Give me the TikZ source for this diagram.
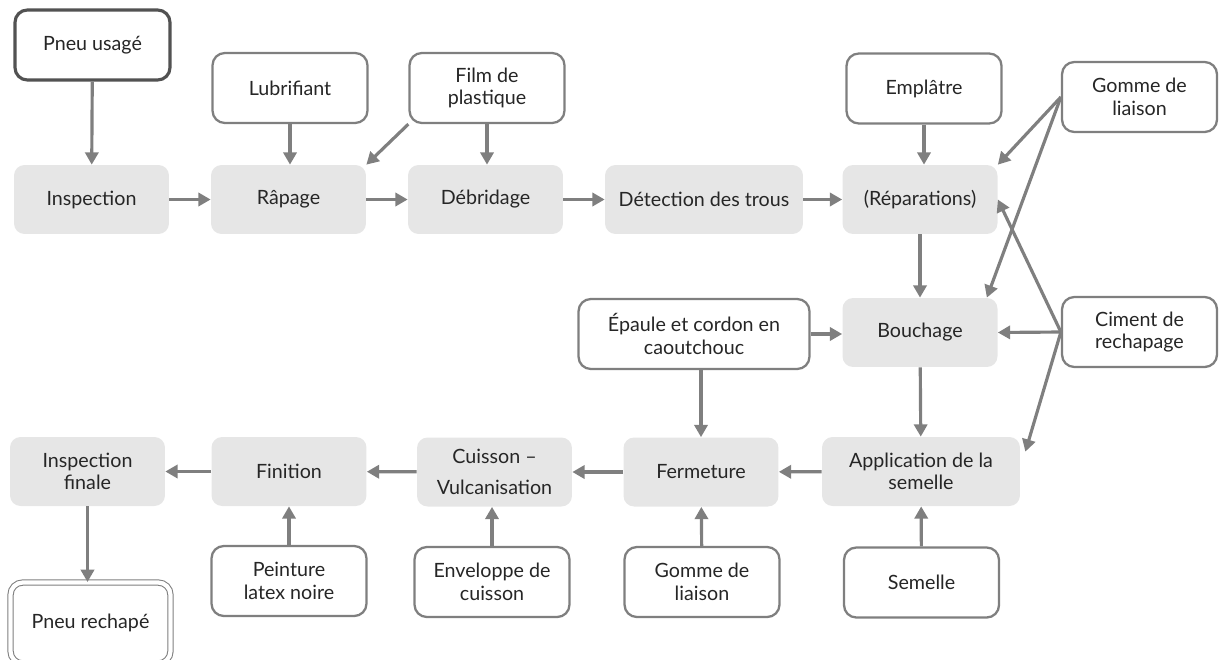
\documentclass[tikz,border=0pt]{standalone}
\usepackage{fontspec}
\setmainfont{Lato}
\usetikzlibrary{arrows.meta}

\definecolor{boxgray}{HTML}{E6E6E6}
\definecolor{linegray}{HTML}{7F7F7F}
\definecolor{txtgray}{HTML}{262626}

\begin{document}
\begin{tikzpicture}[x=0.02cm, y=-0.02cm,
    every node/.style={font=\fontsize{11.2}{12.8}\selectfont, text=txtgray, align=center, inner sep=2pt},
    proc/.style={fill=boxgray, rounded corners=6pt, minimum width=3.1cm, minimum height=1.38cm},
    inp/.style={draw=linegray, line width=1.3pt, fill=white, rounded corners=7pt, minimum width=3.1cm, minimum height=1.4cm},
    flow/.style={draw=linegray, line width=1.8pt, -{Triangle[length=7pt,width=7.5pt]}}]
            \useasboundingbox (0,0) rectangle (1219,659);

            % main steps
            \node [proc] (insp) at (91.5,199.5) {Inspection};
            \node [proc] (rap) at (288.5,199.5) {Râpage};
            \node [proc] (deb) at (485.5,199.5) {Débridage};
            \node [proc, minimum width=3.96cm] (det) at (704,199.5) {Détection des trous};
            \node [proc] (rep) at (920,199.5) {(Réparations)};
            \node [proc] (bou) at (920,332.5) {Bouchage};
            \node [proc, minimum width=3.96cm] (app) at (921,471.5) {Application de la\\semelle};
            \node [proc] (fer) at (701,472) {Fermeture};
            \node [proc] (cui) at (494.5,472) {Cuisson –\\[5pt]Vulcanisation};
            \node [proc] (fin) at (289,471.5) {Finition};
            \node [proc] (inf) at (87.5,471.5) {Inspection\\finale};

            % inputs
            \node [inp, draw=black!68, line width=1.8pt] (pneu) at (92.5,45) {Pneu usagé};
            \node [inp] (lub) at (290,88) {Lubrifiant};
            \node [inp] (film) at (487,88) {Film de\\plastique};
            \node [inp] (empl) at (924,88.5) {Emplâtre};
            \node [inp] (gom1) at (1139.5,97) {Gomme de\\liaison};
            \node [inp] (cim) at (1139.5,332) {Ciment de\\rechapage};
            \node [inp, minimum width=4.62cm] (epa) at (694,334) {Épaule et cordon en\\caoutchouc};
            \node [inp] (sem) at (921.5,582.5) {Semelle};
            \node [inp] (gom2) at (702,582) {Gomme de\\liaison};
            \node [inp] (env) at (492,582) {Enveloppe de\\cuisson};
            \node [inp] (pei) at (289,581) {Peinture\\latex noire};
            \node [inp, line width=0.6pt, double=white, double distance=2.4pt, minimum width=3.2cm, minimum height=1.62cm] (prec) at (90.5,623) {Pneu rechapé};

            % flow
            \draw [flow] (insp) -- (rap);
            \draw [flow] (rap) -- (deb);
            \draw [flow] (deb) -- (det);
            \draw [flow] (det) -- (rep);
            \draw [flow] (rep) -- (bou);
            \draw [flow] (bou) -- (app);
            \draw [flow] (app) -- (fer);
            \draw [flow] (fer) -- (cui);
            \draw [flow] (cui) -- (fin);
            \draw [flow] (fin) -- (inf);
            \draw [flow] (inf.south) -- (inf.south |- prec.north);

            \draw [flow] (pneu) -- (insp);
            \draw [flow] (lub.south) -- (lub.south |- rap.north);
            \draw [flow] (film.south) -- (film.south |- deb.north);
            \draw [flow] (film.south west) -- (rap.north east);
            \draw [flow] (empl.south) -- (empl.south |- rep.north);
            \draw [flow] (gom1.west) -- (rep.north east);
            \draw [flow] (gom1.west) -- ([xshift=-0.22cm]bou.north east);
            \draw [flow] (cim.west) -- (rep.east);
            \draw [flow] (cim.west) -- (bou.east);
            \draw [flow] (cim.west) -- ([xshift=0.1cm,yshift=-0.3cm]app.north east);
            \draw [flow] (epa.east) -- (bou.west |- epa.east);
            \draw [flow] (fer.north |- epa.south) -- (fer.north);
            \draw [flow] (sem) -- (app);
            \draw [flow] (gom2) -- (fer);
            \draw [flow] (env.north) -- (env.north |- cui.south);
            \draw [flow] (pei) -- (fin);
        \end{tikzpicture}
\end{document}
